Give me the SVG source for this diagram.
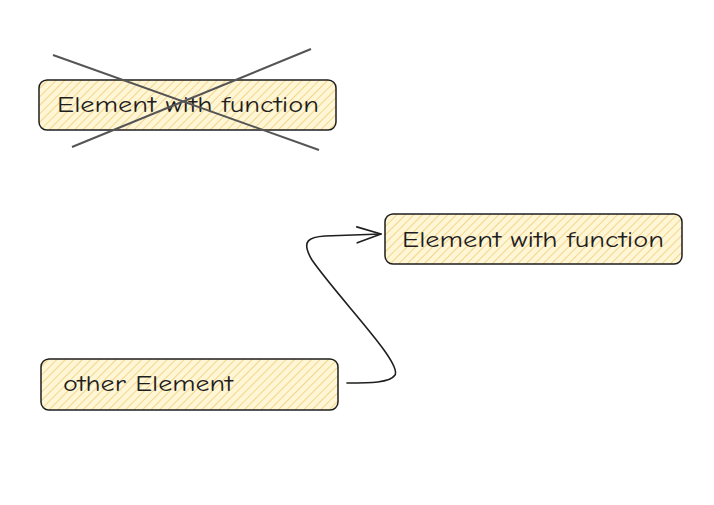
<svg xmlns="http://www.w3.org/2000/svg" width="714" height="505" viewBox="0 0 714 505">
<defs>
<pattern id="hatch" patternUnits="userSpaceOnUse" width="6" height="6" patternTransform="rotate(45)">
<rect width="6" height="6" fill="#fff6d6"/>
<line x1="0" y1="0" x2="0" y2="6" stroke="#f3d58e" stroke-width="2"/>
</pattern>
<marker id="arr" markerWidth="30" markerHeight="30" refX="25" refY="10" orient="auto" markerUnits="userSpaceOnUse">
<path d="M1,2 L25,10 L1,18" fill="none" stroke="#1e1e1e" stroke-width="1.6" stroke-linecap="round" stroke-linejoin="round"/>
</marker>
</defs>
<style>
.box{fill:url(#hatch);stroke:#1e1e1e;stroke-width:1.5}
.lbl{font-family:"Comic Neue","Liberation Sans",sans-serif;font-size:22px;fill:#1e1e1e}
.cross{stroke:#555;stroke-width:2;fill:none}
</style>
<rect width="714" height="505" fill="#ffffff"/>
<g id="node-crossed">
<rect class="box" x="39" y="80" width="297" height="50" rx="8"/>
<text class="lbl" x="57" y="112" textLength="262" lengthAdjust="spacingAndGlyphs">Element with function</text>
<line class="cross" x1="53" y1="55" x2="319" y2="150"/>
<line class="cross" x1="72" y1="147" x2="311" y2="49"/>
</g>
<g id="node-target">
<rect class="box" x="385" y="214" width="297" height="50" rx="8"/>
<text class="lbl" x="402" y="247" textLength="262" lengthAdjust="spacingAndGlyphs">Element with function</text>
</g>
<g id="node-other">
<rect class="box" x="41" y="359" width="297" height="51" rx="8"/>
<text class="lbl" x="63" y="391" textLength="170" lengthAdjust="spacingAndGlyphs">other Element</text>
</g>
<g id="connectors">
<path d="M347,383 C370,383 390,383 395,375 C402,362 340,300 312,260 C300,240 310,237 325,236 L381,234" fill="none" stroke="#1e1e1e" stroke-width="1.6" stroke-linecap="round" marker-end="url(#arr)"/>
</g>
</svg>
